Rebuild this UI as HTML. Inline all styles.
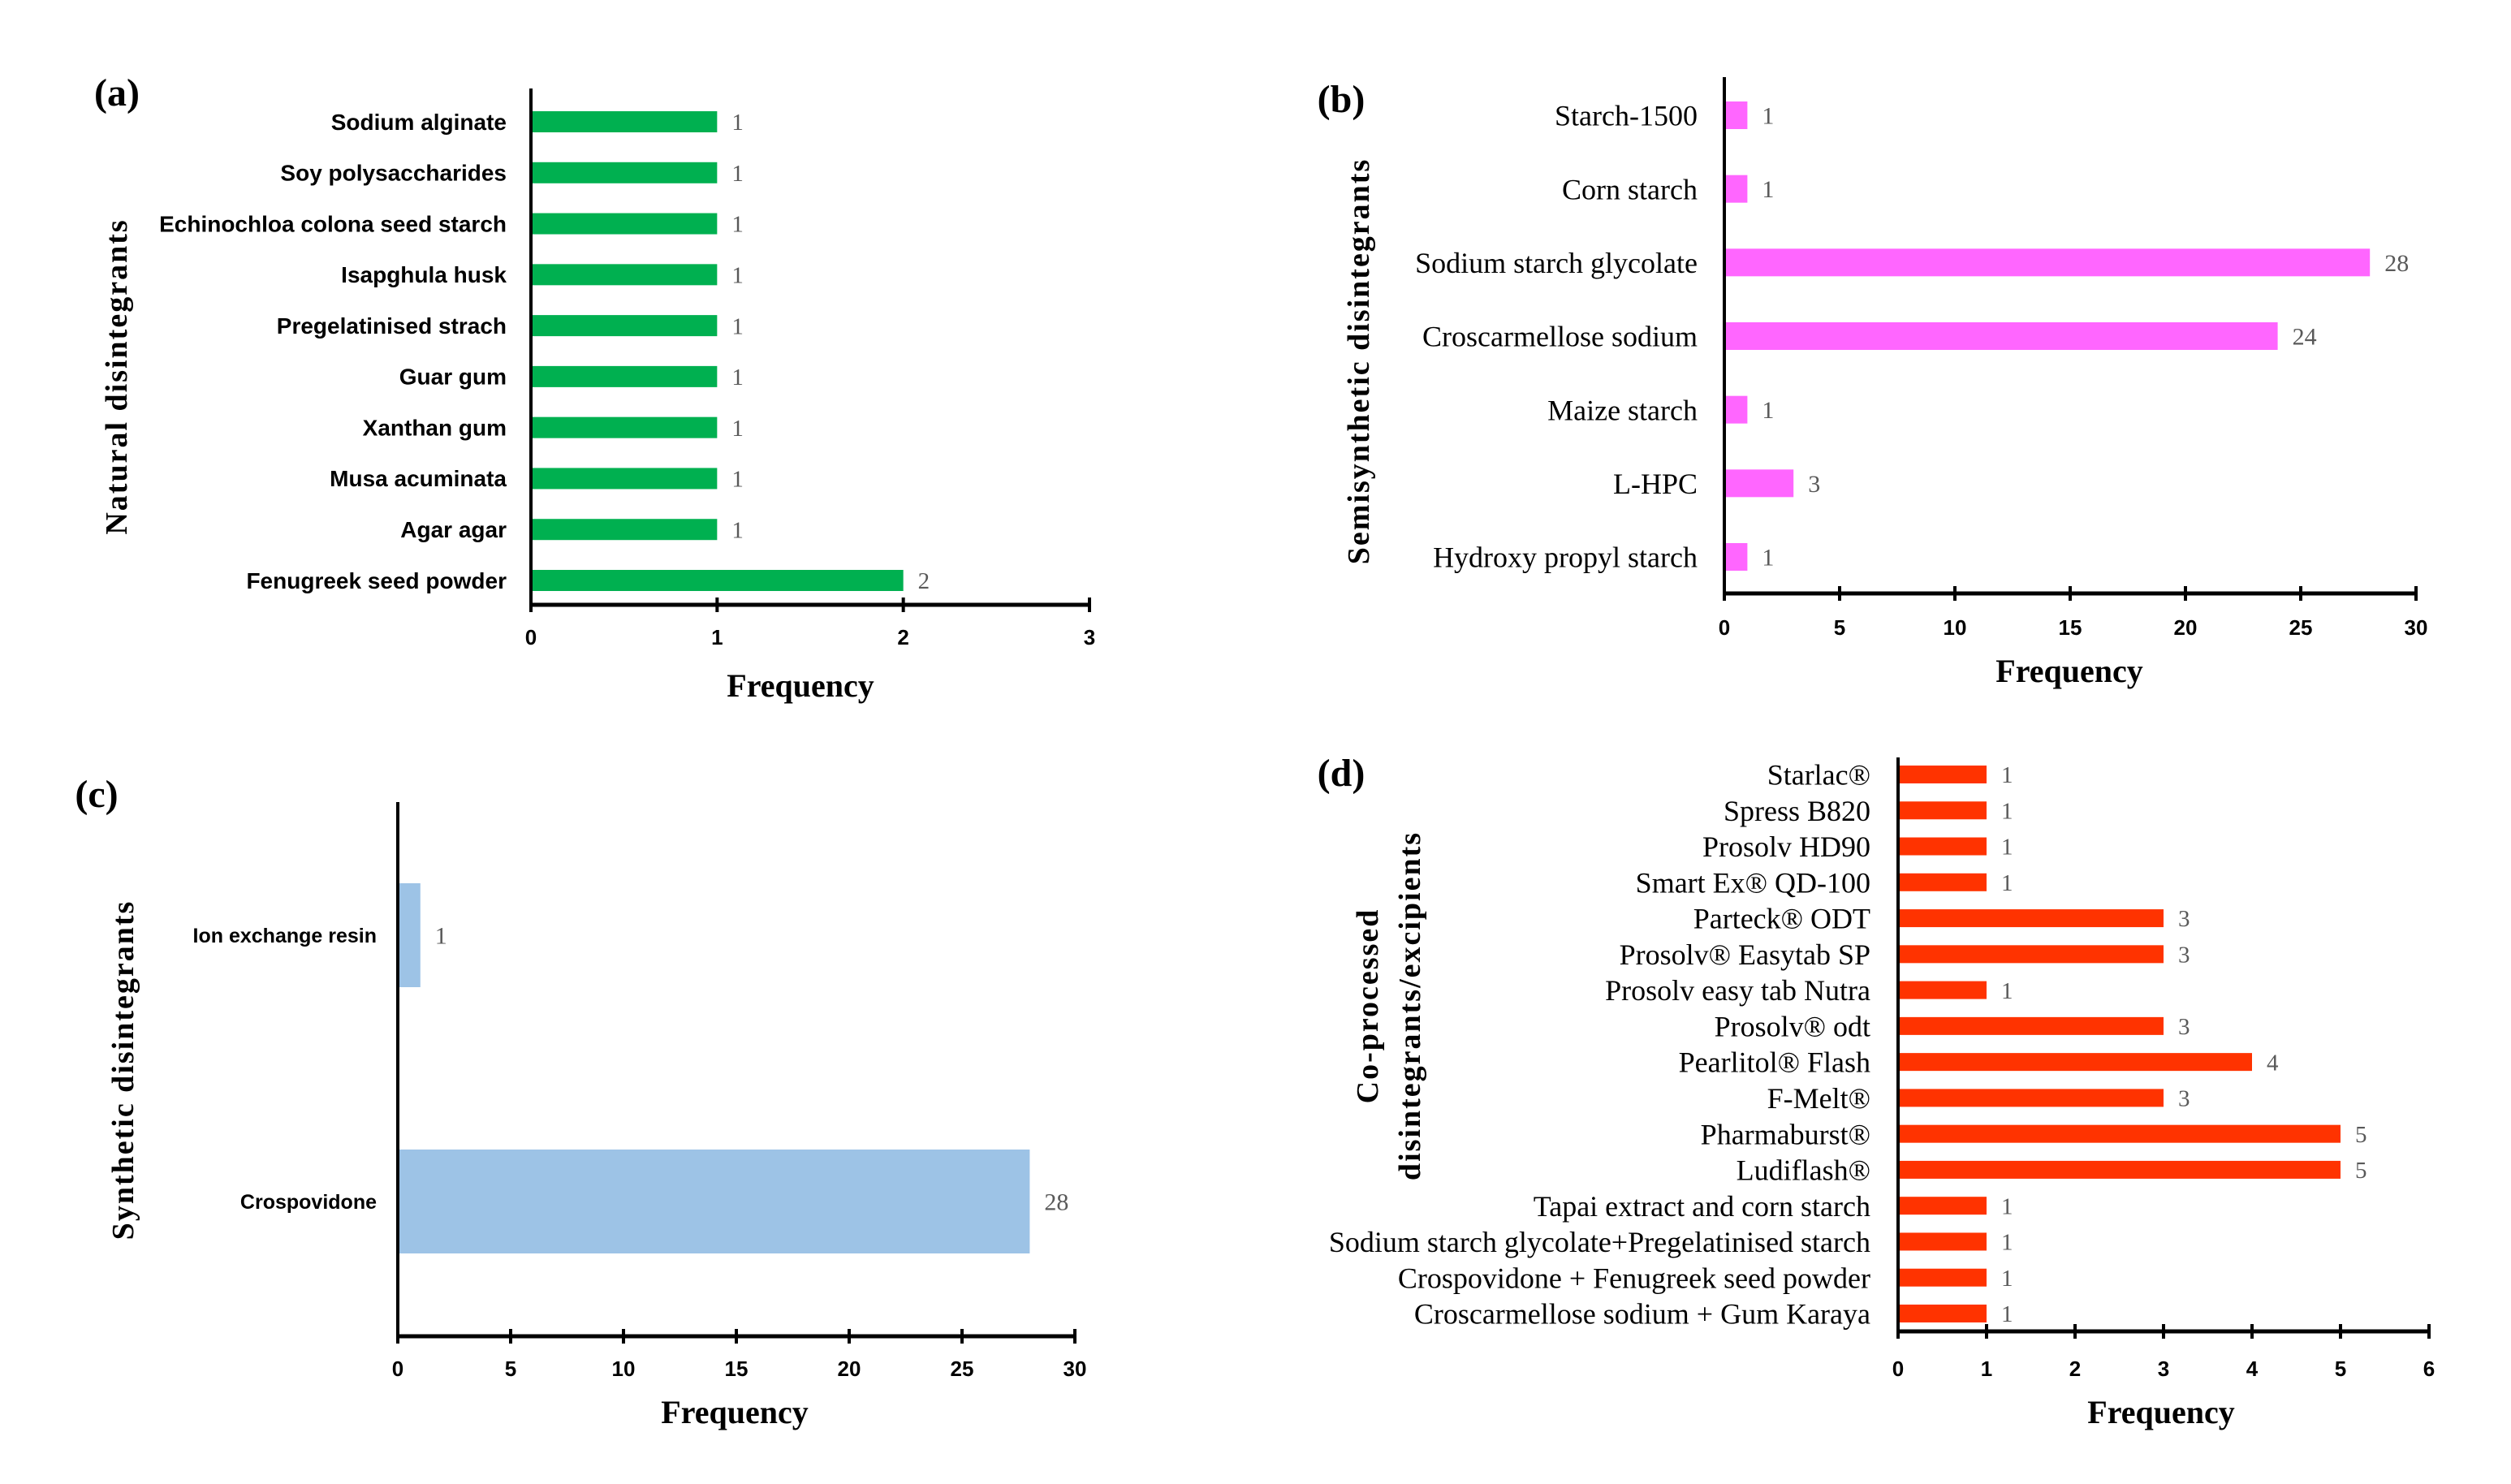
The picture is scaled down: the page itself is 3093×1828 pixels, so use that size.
<!DOCTYPE html>
<html><head><meta charset="utf-8">
<style>
html,body{margin:0;padding:0;background:#fff;}
svg{display:block;}
.sans{font-family:"Liberation Sans",sans-serif;font-weight:bold;}
.serif{font-family:"Liberation Serif",serif;}
</style></head>
<body>
<svg id="fig" width="3093" height="1828" xmlns="http://www.w3.org/2000/svg"></svg>
<script>
// Panel (a) natural
const catsA = ["Sodium alginate","Soy polysaccharides","Echinochloa colona seed starch","Isapghula husk","Pregelatinised strach","Guar gum","Xanthan gum","Musa acuminata","Agar agar","Fenugreek seed powder"];
const valsA = [1,1,1,1,1,1,1,1,1,2];
const ticksA = [0,1,2,3];
// Panel (b) semisynthetic
const catsB = ["Starch-1500","Corn starch","Sodium starch glycolate","Croscarmellose sodium","Maize starch","L-HPC","Hydroxy propyl starch"];
const valsB = [1,1,28,24,1,3,1];
const ticksB = [0,5,10,15,20,25,30];
// Panel (c) synthetic
const catsC = ["Ion exchange resin","Crospovidone"];
const valsC = [1,28];
const ticksC = [0,5,10,15,20,25,30];
// Panel (d) co-processed
const catsD = ["Starlac®","Spress B820","Prosolv HD90","Smart Ex® QD-100","Parteck® ODT","Prosolv® Easytab SP","Prosolv easy tab Nutra","Prosolv® odt","Pearlitol® Flash","F-Melt®","Pharmaburst®","Ludiflash®","Tapai extract and corn starch","Sodium starch glycolate+Pregelatinised starch","Crospovidone + Fenugreek seed powder","Croscarmellose sodium + Gum Karaya"];
const valsD = [1,1,1,1,3,3,1,3,4,3,5,5,1,1,1,1];
const ticksD = [0,1,2,3,4,5,6];

const NS="http://www.w3.org/2000/svg";
const svg=document.getElementById('fig');
function mk(tag,attrs,parent,text){const e=document.createElementNS(NS,tag);for(const k in attrs)e.setAttribute(k,attrs[k]);if(text!==undefined)e.textContent=text;(parent||svg).appendChild(e);return e;}

function panel(p){
  const g=mk('g',{});
  
  
  const max=p.ticks[p.ticks.length-1];
  const xs=v=>p.x0+(v-p.ticks[0])/(max-p.ticks[0])*(p.x1-p.x0);
  const n=p.cats.length;
  const ys=i=>n===1?p.yc0:p.yc0+i*(p.yc1-p.yc0)/(n-1);
  p.cats.forEach((c,i)=>{
    const y=ys(i);
    const r=mk('rect',{x:xs(0),y:y-p.bh/2,width:xs(p.vals[i])-xs(0),height:p.bh,fill:p.color},g);
    
    
    const l=mk('text',{x:p.lx,y:y+p.lfs*0.35,'text-anchor':'end','font-size':p.lfs,class:p.lclass,fill:'#000'},g,c);
    
    
    const v=mk('text',{x:xs(p.vals[i])+18,y:y+p.vfs*0.35,'font-size':p.vfs,class:'serif',fill:'#595959'},g,String(p.vals[i]));
    
    
  });
  const ya=mk('line',{x1:p.x0,y1:p.ytop,x2:p.x0,y2:p.ybot,stroke:'#000','stroke-width':4},g);
  
  
  const xa=mk('line',{x1:p.x0,y1:p.ybot,x2:p.x1,y2:p.ybot,stroke:'#000','stroke-width':5},g);
  
  
  p.ticks.forEach(t=>{
    mk('line',{x1:xs(t),y1:p.ybot-9,x2:xs(t),y2:p.ybot+9,stroke:'#000','stroke-width':4},g);
    const tl=mk('text',{x:xs(t),y:p.tly,'text-anchor':'middle','font-size':26,class:'sans',fill:'#000'},g,String(t));
    
    
  });
  const ft=mk('text',{x:p.fx,y:p.fy,'text-anchor':'middle','font-size':40,class:'serif','font-weight':'bold',fill:'#000'},g,'Frequency');
  
  
  p.ytitle.forEach((t,k)=>{
    const tx=p.ytx[k];
    const yt=mk('text',{x:tx,y:p.yty,'text-anchor':'middle','font-size':38,class:'serif','font-weight':'bold','letter-spacing':2,fill:'#000',transform:'rotate(-90 '+tx+' '+p.yty+')'},g,t);
    
    
  });
  const pl=mk('text',{x:p.plx,y:p.ply,'text-anchor':'middle','font-size':48,class:'serif','font-weight':'bold',fill:'#000'},g,'('+p.id+')');
  
  
}

panel({id:'a',cats:catsA,vals:valsA,ticks:ticksA,color:'#00b050',x0:654,x1:1342,ytop:109,ybot:745,yc0:150,yc1:715,bh:26,
  lx:624,lfs:28,lclass:'sans',vfs:29,tly:794,fx:986,fy:858,ytitle:['Natural disintegrants'],ytx:[156],yty:464,plx:144,ply:130});
panel({id:'b',cats:catsB,vals:valsB,ticks:ticksB,color:'#ff66ff',x0:2124,x1:2976,ytop:95,ybot:731,yc0:142,yc1:686,bh:34,
  lx:2091,lfs:36,lclass:'serif',vfs:30,tly:782,fx:2549,fy:840,ytitle:['Semisynthetic disintegrants'],ytx:[1686],yty:445,plx:1652,ply:138});
panel({id:'c',cats:catsC,vals:valsC,ticks:ticksC,color:'#9dc3e6',x0:490,x1:1324,ytop:988,ybot:1646,yc0:1152,yc1:1480,bh:128,
  lx:464,lfs:25,lclass:'sans',vfs:30,tly:1695,fx:905,fy:1753,ytitle:['Synthetic disintegrants'],ytx:[164],yty:1318,plx:119,ply:994});
panel({id:'d',cats:catsD,vals:valsD,ticks:ticksD,color:'#ff3300',x0:2338,x1:2992,ytop:933,ybot:1640,yc0:954,yc1:1618,bh:22,
  lx:2304,lfs:36,lclass:'serif',vfs:29,tly:1695,fx:2662,fy:1753,ytitle:['Co-processed','disintegrants/excipients'],ytx:[1697,1749],yty:1239,plx:1652,ply:968});
</script>
</body></html>
